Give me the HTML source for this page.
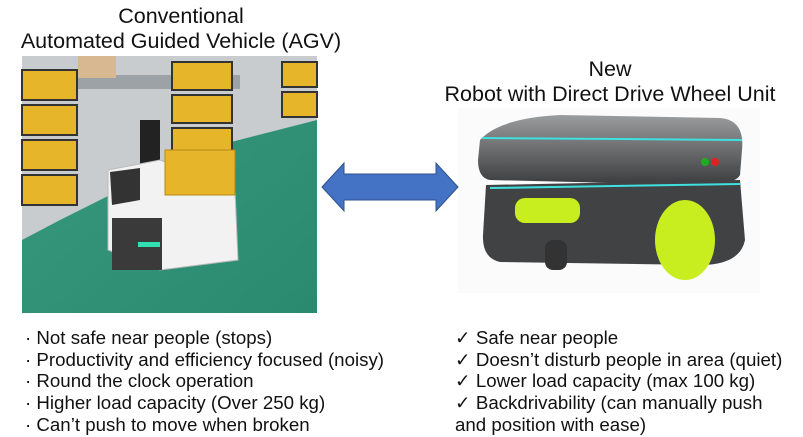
<!DOCTYPE html>
<html><head><meta charset="utf-8"><style>
body{margin:0;width:803px;height:437px;background:#fff;position:relative;overflow:hidden;font-family:"Liberation Sans",sans-serif;color:#111}
.t{position:absolute;font-size:21.5px;text-align:center;white-space:nowrap}
.l{position:absolute;font-size:18.7px;line-height:21.7px;white-space:nowrap}
</style></head><body>
<div class="t" style="left:0px;width:362px;top:4px;line-height:25px">Conventional<br>Automated Guided Vehicle (AGV)</div>
<div class="t" style="left:420px;width:380px;top:57px;line-height:25px">New<br>Robot with Direct Drive Wheel Unit</div>

<svg style="position:absolute;left:0;top:0" width="803" height="437">
 <defs>
  <linearGradient id="fl" x1="0" y1="0" x2="1" y2="1"><stop offset="0" stop-color="#3a9a80"/><stop offset="1" stop-color="#2a8a70"/></linearGradient>
  <linearGradient id="rb" x1="0" y1="0" x2="0" y2="1"><stop offset="0" stop-color="#9a9c9e"/><stop offset="1" stop-color="#3a3c3e"/></linearGradient>
 </defs>
 <rect x="22" y="56" width="295" height="257" fill="url(#fl)"/>
 <polygon points="22,56 317,56 317,120 200,150 60,220 22,240" fill="#c9cccf"/>
 <rect x="70" y="75" width="170" height="14" fill="#9da2a6"/>
 <g fill="#e6b52a" stroke="#333" stroke-width="2">
  <rect x="22" y="70" width="55" height="30"/><rect x="22" y="105" width="55" height="30"/><rect x="22" y="140" width="55" height="30"/><rect x="22" y="175" width="55" height="30"/>
  <rect x="172" y="62" width="60" height="28"/><rect x="172" y="95" width="60" height="28"/><rect x="172" y="128" width="60" height="28"/>
  <rect x="282" y="62" width="35" height="25"/><rect x="282" y="92" width="35" height="25"/>
 </g>
 <rect x="78" y="56" width="38" height="22" fill="#d8b890"/>
 <rect x="140" y="120" width="20" height="80" fill="#222"/>
 <polygon points="108,170 160,160 235,190 238,260 160,270 108,250" fill="#f2f2f2" stroke="#bbb"/>
 <polygon points="110,172 140,168 140,200 112,205" fill="#333"/>
 <rect x="165" y="150" width="70" height="45" fill="#e6b52a" stroke="#b88a10"/>
 <rect x="112" y="218" width="50" height="52" fill="#3a3a3a"/>
 <rect x="138" y="242" width="22" height="5" fill="#30e0b0"/>
 <rect x="458" y="108" width="302" height="185" fill="#fbfbfb"/>
 <path d="M480,140 Q500,118 560,115 L720,118 Q745,120 742,150 L740,175 Q735,185 700,185 L490,180 Q478,178 478,160 Z" fill="url(#rb)"/>
 <path d="M482,138 L742,140" stroke="#3ee0e0" stroke-width="2"/>
 <path d="M486,185 L740,180 L745,240 Q740,265 700,265 L500,262 Q482,258 483,235 Z" fill="#404244"/>
 <path d="M490,188 L740,184" stroke="#3ee0e0" stroke-width="2"/>
 <rect x="515" y="198" width="65" height="25" rx="10" fill="#c8ee20"/>
 <ellipse cx="685" cy="240" rx="30" ry="40" fill="#c8ee20"/>
 <rect x="545" y="240" width="22" height="30" rx="8" fill="#333"/>
 <circle cx="705" cy="162" r="4" fill="#2a2"/><circle cx="715" cy="162" r="4" fill="#d22"/>
 <polygon points="322,187 344,163 344,174 436,174 436,163 458,187 436,211 436,200 344,200 344,211" fill="#4472c4" stroke="#2f528f" stroke-width="1"/>
</svg>

<div class="l" style="left:25px;top:327px">· Not safe near people (stops)<br>· Productivity and efficiency focused (noisy)<br>· Round the clock operation<br>· Higher load capacity (Over 250 kg)<br>· Can’t push to move when broken</div>
<div class="l" style="left:455px;top:327px">✓ Safe near people<br>✓ Doesn’t disturb people in area (quiet)<br>✓ Lower load capacity (max 100 kg)<br>✓ Backdrivability (can manually push<br>and position with ease)</div>
</body></html>
